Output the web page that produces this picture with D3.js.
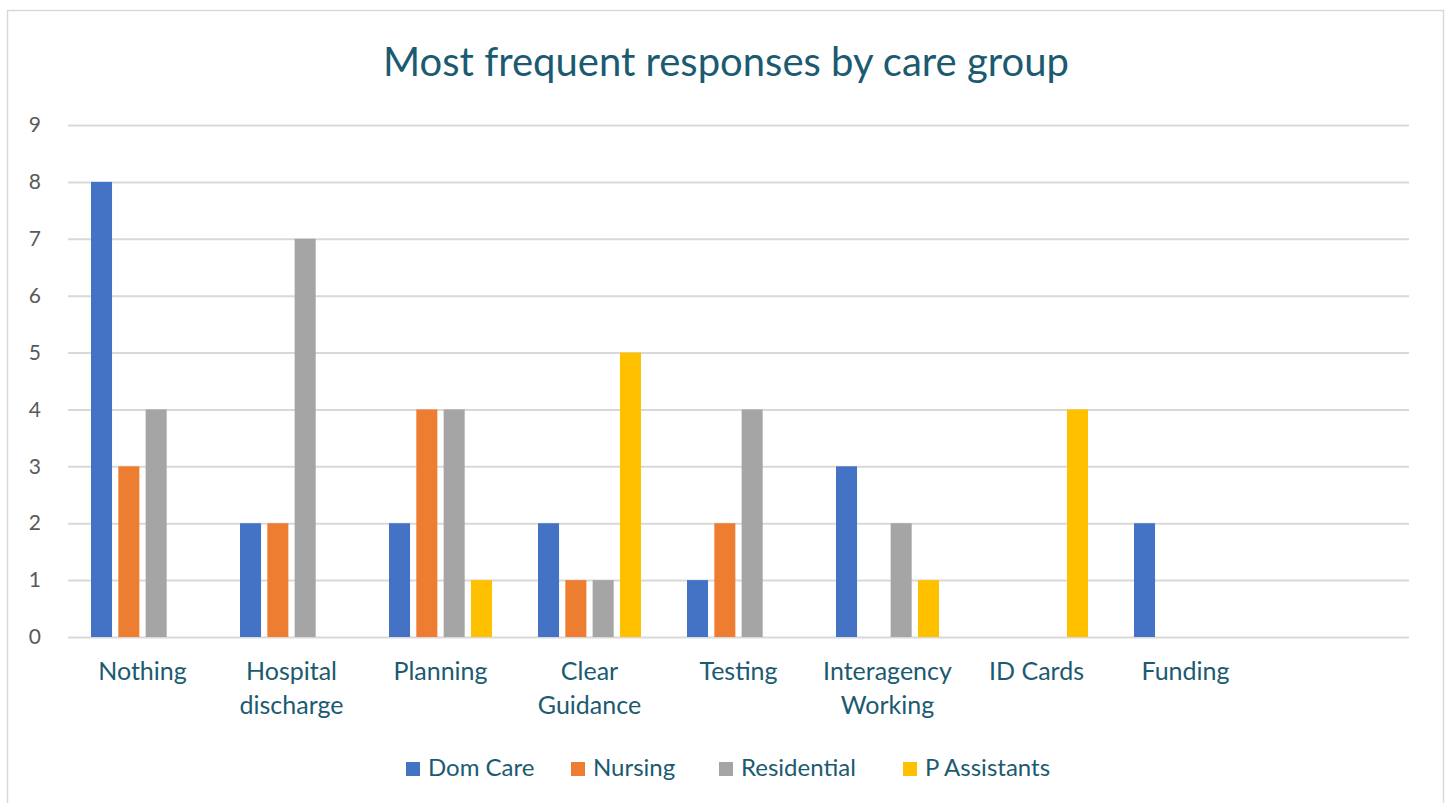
<!DOCTYPE html>
<html>
<head>
<meta charset="utf-8">
<script src="https://cdn.jsdelivr.net/npm/d3@7"></script>
<style>
  html, body { margin: 0; padding: 0; background: #fff; }
  svg { display: block; }
</style>
</head>
<body>
<svg id="chart" width="1451" height="803"></svg>
<script>
const categories = ["Nothing", "Hospital discharge", "Planning", "Clear Guidance", "Testing", "Interagency Working", "ID Cards", "Funding", ""];
const seriesNames = ["Dom Care", "Nursing", "Residential", "P Assistants"];
const domCare     = [8, 2, 2, 2, 1, 3, 0, 2, null];
const nursing     = [3, 2, 4, 1, 2, 0, 0, 0, null];
const residential = [4, 7, 4, 1, 4, 2, 0, 0, null];
const pAssistants = [0, 0, 1, 5, 0, 1, 4, 0, null];
const yTicks = [0, 1, 2, 3, 4, 5, 6, 7, 8, 9];
const colors = ["#4472C4", "#ED7D31", "#A5A5A5", "#FFC000"];
const title = "Most frequent responses by care group";

const seriesValues = [domCare, nursing, residential, pAssistants];
const FONT = "Lato, 'Open Sans', sans-serif";
const textColor = "#1B5A70";

const svg = d3.select("#chart");

// outer frame
svg.append("rect").attr("x", 7.5).attr("y", 10.5).attr("width", 1436).attr("height", 800)
  .attr("fill", "#fff").attr("stroke", "#D9D9D9").attr("stroke-width", 1.5);

const plot = { left: 68, right: 1409, top: 125, bottom: 637 };

const x0 = d3.scaleBand().domain(categories).range([plot.left, plot.right]).paddingInner(0).paddingOuter(0);
const groupW = 103;
const x1 = d3.scaleBand().domain(seriesNames)
  .range([(x0.bandwidth() - groupW) / 2, (x0.bandwidth() + groupW) / 2])
  .paddingInner(0.23).paddingOuter(0);
const y = d3.scaleLinear().domain([0, 9]).range([plot.bottom, plot.top]);

// title
svg.append("text").attr("x", 726).attr("y", 76).attr("text-anchor", "middle")
  .attr("font-family", FONT).attr("font-size", 40).attr("fill", textColor)
  .text(title);

// y axis + gridlines
const yAxis = d3.axisLeft(y).tickValues(yTicks).tickFormat(d3.format("d"))
  .tickSize(-(plot.right - plot.left)).tickPadding(27);
const gy = svg.append("g").attr("transform", `translate(${plot.left},0)`).call(yAxis);
gy.select(".domain").remove();
gy.selectAll(".tick line").attr("stroke", "#D9D9D9").attr("stroke-width", 2);
gy.selectAll(".tick text").attr("font-family", FONT).attr("font-size", 21).attr("fill", "#595959");

// bars
const rows = [];
categories.forEach((c, i) => {
  seriesNames.forEach((s, j) => {
    const v = seriesValues[j][i];
    if (v) rows.push({ cat: c, series: s, value: v, color: colors[j] });
  });
});
svg.append("g").selectAll("rect").data(rows).join("rect")
  .attr("x", d => x0(d.cat) + x1(d.series))
  .attr("width", x1.bandwidth())
  .attr("y", d => y(d.value))
  .attr("height", d => y(0) - y(d.value))
  .attr("fill", d => d.color);

// x axis labels (wrap only when wider than the category slot)
const xAxis = d3.axisBottom(x0).tickSize(0).tickPadding(0);
const gx = svg.append("g").attr("transform", `translate(0,${plot.bottom})`).call(xAxis);
gx.select(".domain").remove();
gx.selectAll(".tick text").each(function(d) {
  const t = d3.select(this);
  t.attr("y", 0).attr("dy", null)
    .attr("font-family", FONT).attr("font-size", 25).attr("fill", textColor);
  const full = this.getComputedTextLength();
  t.text(null);
  const lines = full > 140 ? d.split(" ") : [d];
  lines.forEach((w, k) => {
    t.append("tspan").attr("x", 0).attr("y", 43 + k * 34).text(w);
  });
});

// legend
const legendX = [406, 571, 719, 903];
const legend = svg.append("g");
seriesNames.forEach((s, j) => {
  const g = legend.append("g").attr("transform", `translate(${legendX[j]},762)`);
  g.append("rect").attr("width", 14).attr("height", 14).attr("fill", colors[j]);
  g.append("text").attr("x", 22).attr("y", 13.5).attr("font-family", FONT)
    .attr("font-size", 24).attr("fill", textColor).text(s);
});
</script>
</body>
</html>
